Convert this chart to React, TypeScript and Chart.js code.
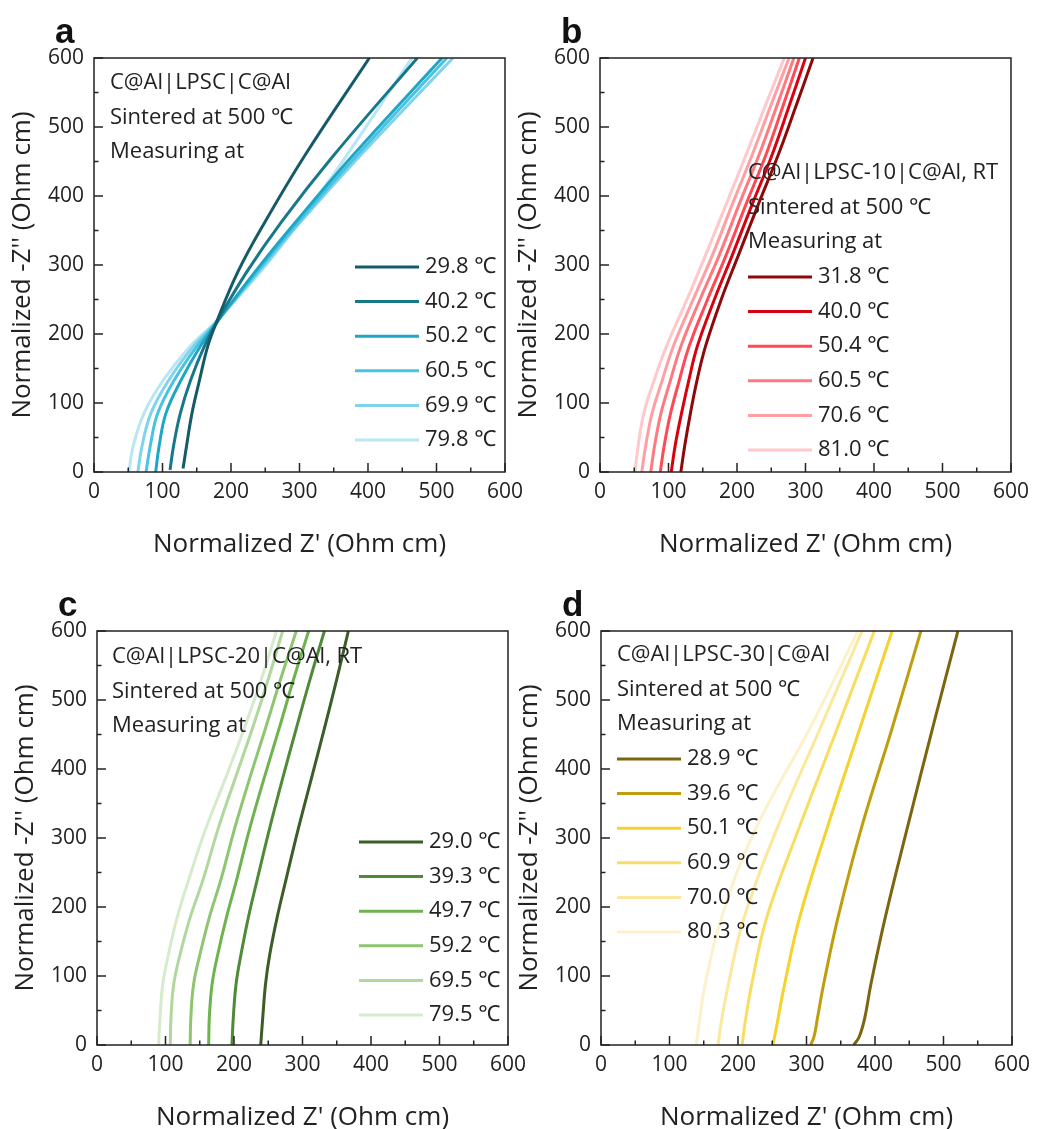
import React, { useEffect, useRef } from 'react';
import { Chart, registerables } from 'chart.js';

Chart.register(...registerables);

const FONT = "'Open Sans', 'Noto Sans', 'DejaVu Sans', sans-serif";
const TEXT = '#222222';

// ---------- axis ----------
const AXIS_MIN = 0;
const AXIS_MAX = 600;
const MAJOR_STEP = 100;
const MINOR_STEP = 50;
const X_TITLE = "Normalized Z' (Ohm cm)";
const Y_TITLE = "Normalized -Z'' (Ohm cm)";

// ---------- panel a : C@Al|LPSC|C@Al ----------
const aNote = ['C@Al|LPSC|C@Al', 'Sintered at 500 ℃', 'Measuring at'];
const aLabels = ['29.8 ℃', '40.2 ℃', '50.2 ℃', '60.5 ℃', '69.9 ℃', '79.8 ℃'];
const aColors = ['#155a69', '#17788a', '#1fa6c6', '#48c3e2', '#7fd4ec', '#b9e6f3'];
const a_29_8 = [[130, 5], [135, 37], [143, 85], [154, 133], [166, 182], [178, 215], [210, 290], [250, 363], [308, 459], [402, 600]];
const a_40_2 = [[111, 3], [116, 37], [126, 85], [141, 133], [161, 182], [178, 215], [223, 290], [274, 363], [350, 459], [472, 600]];
const a_50_2 = [[90, 0], [95, 37], [105, 85], [127, 133], [155, 182], [178, 215], [235, 290], [295, 363], [378, 459], [508, 600]];
const a_60_5 = [[76, 0], [82, 37], [93, 85], [117, 133], [150, 182], [177, 215], [238, 290], [299, 363], [384, 459], [515, 600]];
const a_69_9 = [[64, 0], [70, 37], [83, 85], [109, 133], [145, 182], [176, 215], [241, 290], [302, 363], [389, 459], [524, 600]];
const a_79_8 = [[51, 0], [57, 37], [73, 85], [101, 133], [140, 182], [175, 215], [243, 290], [300, 363], [330, 404], [369, 459], [464, 600]];

// ---------- panel b : C@Al|LPSC-10|C@Al ----------
const bNote = ['C@Al|LPSC-10|C@Al, RT', 'Sintered at 500 ℃', 'Measuring at'];
const bLabels = ['31.8 ℃', '40.0 ℃', '50.4 ℃', '60.5 ℃', '70.6 ℃', '81.0 ℃'];
const bColors = ['#8e0a0a', '#d9000f', '#ff4a55', '#ff7a80', '#ff9fa3', '#ffc8ca'];
const b_31_8 = [[118, 0], [124, 40], [132, 85], [141, 130], [154, 182], [177, 250], [202, 314], [232, 390], [260, 459], [286, 530], [311, 600]];
const b_40_0 = [[104, 0], [110, 40], [119, 85], [129, 130], [142, 182], [167, 250], [193, 314], [223, 390], [251, 459], [276, 530], [300, 600]];
const b_50_4 = [[88, 0], [94, 40], [103, 85], [115, 130], [130, 182], [157, 250], [184, 314], [214, 390], [242, 459], [267, 530], [291, 600]];
const b_60_5 = [[74, 0], [80, 40], [89, 85], [102, 130], [118, 182], [146, 250], [174, 314], [204, 390], [232, 459], [258, 530], [283, 600]];
const b_70_6 = [[61, 0], [67, 40], [76, 85], [90, 130], [107, 182], [136, 250], [164, 314], [194, 390], [222, 459], [249, 530], [276, 600]];
const b_81_0 = [[51, 0], [56, 40], [64, 85], [78, 130], [97, 182], [127, 250], [154, 314], [185, 390], [213, 459], [241, 530], [269, 600]];

// ---------- panel c : C@Al|LPSC-20|C@Al ----------
const cNote = ['C@Al|LPSC-20|C@Al, RT', 'Sintered at 500 ℃', 'Measuring at'];
const cLabels = ['29.0 ℃', '39.3 ℃', '49.7 ℃', '59.2 ℃', '69.5 ℃', '79.5 ℃'];
const cColors = ['#3b5e26', '#4f8a36', '#6db34f', '#8dc571', '#b0d89c', '#d5ebcb'];
const c_29_0 = [[239, 0], [242, 40], [246, 88], [252, 130], [263, 185], [276, 240], [294, 314], [314, 390], [332, 459], [350, 530], [367, 600]];
const c_39_3 = [[197, 0], [199, 40], [203, 88], [210, 130], [221, 185], [234, 240], [252, 314], [272, 390], [291, 459], [311, 530], [332, 600]];
const c_49_7 = [[163, 0], [164, 40], [168, 88], [176, 130], [189, 185], [204, 240], [223, 314], [245, 390], [266, 459], [287, 530], [309, 600]];
const c_59_2 = [[136, 0], [137, 40], [141, 88], [150, 130], [164, 185], [181, 240], [201, 314], [224, 390], [246, 459], [268, 530], [291, 600]];
const c_69_5 = [[107, 0], [108, 40], [112, 88], [121, 130], [136, 185], [155, 240], [177, 314], [203, 390], [227, 459], [250, 530], [271, 600]];
const c_79_5 = [[90, 0], [92, 40], [96, 88], [104, 130], [117, 185], [134, 240], [159, 314], [189, 390], [215, 459], [240, 530], [262, 600]];

// ---------- panel d : C@Al|LPSC-30|C@Al ----------
const dNote = ['C@Al|LPSC-30|C@Al', 'Sintered at 500 ℃', 'Measuring at'];
const dLabels = ['28.9 ℃', '39.6 ℃', '50.1 ℃', '60.9 ℃', '70.0 ℃', '80.3 ℃'];
const dColors = ['#7d650f', '#bf9d0c', '#f6d22b', '#f9dd61', '#fbe89c', '#fdf1cb'];
const d_28_9 = [[369, 0], [377, 12], [385, 39], [394, 88], [415, 185], [447, 314], [484, 459], [521, 600]];
const d_39_6 = [[306, 0], [311, 12], [316, 39], [325, 88], [346, 185], [380, 314], [425, 459], [467, 600]];
const d_50_1 = [[251, 0], [256, 25], [268, 88], [290, 185], [330, 314], [378, 459], [425, 600]];
const d_60_9 = [[206, 0], [210, 30], [220, 88], [242, 185], [289, 314], [345, 459], [399, 600]];
const d_70_0 = [[171, 0], [175, 30], [186, 88], [209, 185], [257, 314], [320, 459], [381, 600]];
const d_80_3 = [[139, 0], [143, 30], [152, 88], [176, 185], [226, 314], [305, 459], [375, 600]];

// ---------- layout ----------
const W = 530;
const H = 565;
const AREA = { left: 94, top: 58, right: 507, bottom: 472 };
const LINE = 34.6;

type PanelCfg = {
  letter: string;
  left: number;
  top: number;
  note: string[];
  noteX: number;
  noteY: number;
  legX: number;
  legY: number;
  labels: string[];
  colors: string[];
  series: number[][][];
};

const panels: PanelCfg[] = [
  { letter: 'a', left: 0, top: 0, note: aNote, noteX: 110, noteY: 83, legX: 355, legY: 267, labels: aLabels, colors: aColors, series: [a_29_8, a_40_2, a_50_2, a_60_5, a_69_9, a_79_8] },
  { letter: 'b', left: 506, top: 0, note: bNote, noteX: 242, noteY: 173, legX: 242, legY: 277, labels: bLabels, colors: bColors, series: [b_31_8, b_40_0, b_50_4, b_60_5, b_70_6, b_81_0] },
  { letter: 'c', left: 3, top: 573, note: cNote, noteX: 109, noteY: 84, legX: 356, legY: 269, labels: cLabels, colors: cColors, series: [c_29_0, c_39_3, c_49_7, c_59_2, c_69_5, c_79_5] },
  { letter: 'd', left: 507, top: 573, note: dNote, noteX: 110, noteY: 82, legX: 110, legY: 186, labels: dLabels, colors: dColors, series: [d_28_9, d_39_6, d_50_1, d_60_9, d_70_0, d_80_3] },
];

function overlayPlugin(cfg: PanelCfg) {
  return {
    id: 'overlay' + cfg.letter,
    afterDraw(chart: any) {
      const { ctx, chartArea: ca, scales } = chart;
      const xs = scales.x;
      const ys = scales.y;
      ctx.save();
      ctx.strokeStyle = TEXT;
      ctx.lineWidth = 1.5;
      ctx.strokeRect(ca.left, ca.top, ca.right - ca.left, ca.bottom - ca.top);
      for (let v = AXIS_MIN; v <= AXIS_MAX; v += MINOR_STEP) {
        const len = v % MAJOR_STEP === 0 ? 9 : 4.5;
        const px = xs.getPixelForValue(v);
        ctx.beginPath();
        ctx.moveTo(px, ca.bottom);
        ctx.lineTo(px, ca.bottom - len);
        ctx.stroke();
        const py = ys.getPixelForValue(v);
        ctx.beginPath();
        ctx.moveTo(ca.left, py);
        ctx.lineTo(ca.left + len, py);
        ctx.stroke();
      }
      // panel letter
      ctx.fillStyle = '#111';
      ctx.textAlign = 'left';
      ctx.textBaseline = 'alphabetic';
      ctx.font = "bold 35px 'Liberation Sans', Arial, sans-serif";
      ctx.fillText(cfg.letter, 55, 43);
      // annotation
      ctx.fillStyle = TEXT;
      ctx.textBaseline = 'middle';
      ctx.font = `22px ${FONT}`;
      cfg.note.forEach((t, i) => ctx.fillText(t, cfg.noteX, cfg.noteY + i * LINE));
      // legend
      chart.data.datasets.forEach((ds: any, i: number) => {
        const y = cfg.legY + i * LINE;
        ctx.strokeStyle = ds.borderColor;
        ctx.lineWidth = 3;
        ctx.beginPath();
        ctx.moveTo(cfg.legX, y);
        ctx.lineTo(cfg.legX + 64, y);
        ctx.stroke();
        ctx.fillStyle = TEXT;
        ctx.fillText(ds.label, cfg.legX + 70, y);
      });
      ctx.restore();
    },
  };
}

function Panel({ cfg }: { cfg: PanelCfg }) {
  const ref = useRef<HTMLCanvasElement>(null);
  useEffect(() => {
    const canvas = ref.current;
    if (!canvas) return;
    const chart = new Chart(canvas, {
      type: 'line',
      data: {
        datasets: cfg.series.map((s, i) => ({
          label: cfg.labels[i],
          data: s.map(([x, y]) => ({ x, y })),
          borderColor: cfg.colors[i],
          backgroundColor: cfg.colors[i],
          borderWidth: 3,
          pointRadius: 0,
          tension: 0.4,
          fill: false,
        })),
      },
      options: {
        animation: false,
        responsive: false,
        maintainAspectRatio: false,
        layout: { padding: { top: AREA.top, right: W - AREA.right, left: 0, bottom: 0 } },
        plugins: { legend: { display: false }, tooltip: { enabled: false } },
        scales: {
          x: {
            type: 'linear',
            min: AXIS_MIN,
            max: AXIS_MAX,
            ticks: { stepSize: MAJOR_STEP, color: TEXT, font: { family: FONT, size: 21 }, padding: 7, maxRotation: 0, autoSkip: false },
            grid: { display: false, drawTicks: false },
            border: { display: false },
            title: { display: true, text: X_TITLE, color: TEXT, font: { family: FONT, size: 26 }, padding: { top: 0, bottom: 5 } },
            afterFit: (s: any) => { s.height = H - AREA.bottom; },
          },
          y: {
            type: 'linear',
            min: AXIS_MIN,
            max: AXIS_MAX,
            ticks: { stepSize: MAJOR_STEP, color: TEXT, font: { family: FONT, size: 21 }, padding: 10 },
            grid: { display: false, drawTicks: false },
            border: { display: false },
            title: { display: true, text: Y_TITLE, color: TEXT, font: { family: FONT, size: 26 }, padding: { top: 7, bottom: 0 } },
            afterFit: (s: any) => { s.width = AREA.left; },
          },
        },
      },
      plugins: [overlayPlugin(cfg)],
    } as any);
    return () => chart.destroy();
  }, [cfg]);
  return (
    <canvas
      ref={ref}
      width={W}
      height={H}
      style={{ position: 'absolute', left: cfg.left, top: cfg.top, width: W, height: H, display: 'block' }}
    />
  );
}

export default function App() {
  return (
    <div style={{ position: 'absolute', left: 0, top: 0, width: 1037, height: 1129, overflow: 'hidden', background: '#fff' }}>
      {panels.map((p) => (
        <Panel key={p.letter} cfg={p} />
      ))}
    </div>
  );
}
